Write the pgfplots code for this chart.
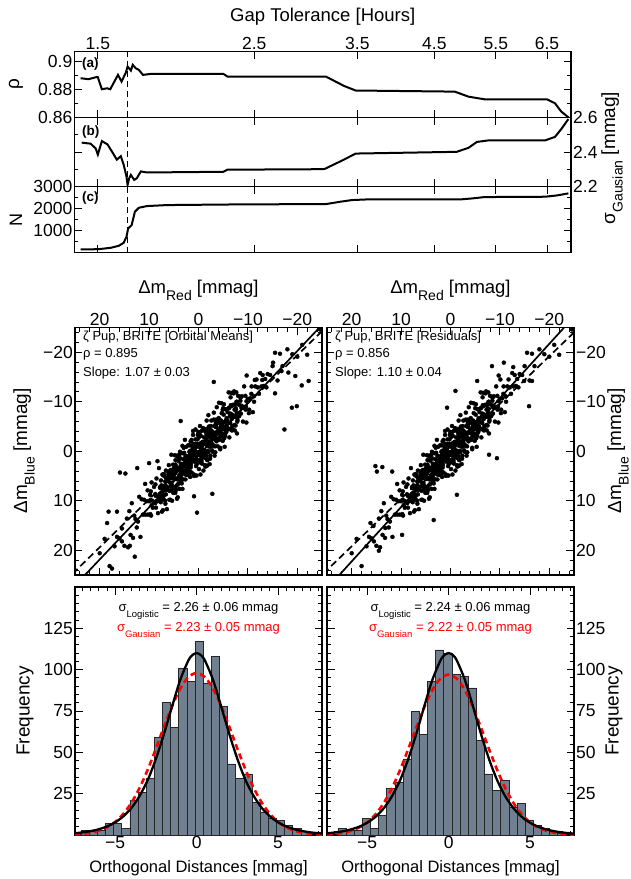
\documentclass[border=0pt]{standalone}
\usepackage{fontspec}
\setmainfont{Liberation Sans}
\usepackage{pgfplots}
\usepackage{pgfplotstable}
\pgfplotsset{compat=1.18}
\definecolor{slate}{RGB}{112,128,144}
\newcommand{\fs}[1]{\fontsize{#1}{#1}\selectfont}
\newcommand{\sub}[1]{\raisebox{-0.4em}{\fontsize{14}{14}\selectfont #1}}
\newcommand{\subs}[1]{\raisebox{-0.42em}{\fontsize{9.5}{9.5}\selectfont #1}}
\newcommand{\tickfont}{\fontsize{17.5}{17.5}\selectfont}

% ---------- scatter core (shared dense cloud) ----------
\pgfplotstableread[row sep=\\]{
x y\\
0.00 0.3\\ 0.20 -2.4\\ -0.20 1.8\\ 0.10 -0.9\\ -0.10 3.6\\ 0.25 -1.5\\ -0.15 0.8\\ 0.05 -3.9\\
0.50 3.0\\ 0.70 0.3\\ 0.30 1.7\\ 0.60 -2.4\\ 0.40 4.9\\ 0.75 -0.1\\ 0.35 2.6\\ 0.55 -1.4\\
-0.50 -0.4\\ -0.30 -5.1\\ -0.70 2.5\\ -0.40 -1.6\\ -0.60 1.1\\ -0.25 -3.8\\ -0.65 0.0\\ -0.45 2.3\\
1.00 0.7\\ 1.20 -0.9\\ 0.80 2.1\\ 1.10 -4.1\\ 0.90 5.0\\ 1.25 -0.2\\ 0.85 1.8\\ 1.05 -1.5\\
-1.00 3.9\\ -0.80 -1.9\\ -1.20 1.2\\ -0.90 -4.7\\ -1.10 0.3\\ -0.75 -1.2\\ -1.15 -2.8\\ -0.95 0.9\\
1.50 0.7\\ 1.70 5.2\\ 1.30 0.1\\ 1.60 2.4\\ 1.40 -2.3\\ 1.75 4.1\\ 1.35 1.4\\ 1.55 2.8\\
-1.50 -4.5\\ -1.30 2.8\\ -1.70 -2.2\\ -1.40 0.5\\ -1.60 -3.5\\ -1.25 -1.5\\ -1.65 -6.2\\ -1.45 1.4\\
2.00 1.0\\ 2.20 3.7\\ 1.80 -1.2\\ 2.10 2.6\\ 1.90 4.9\\ 2.25 1.7\\ 1.85 0.1\\ 2.05 3.1\\
-2.00 -7.3\\ -1.80 1.8\\ -2.20 -3.4\\ -1.90 -1.4\\ -2.10 -4.7\\ -1.75 2.9\\ -2.15 -2.9\\ -1.95 0.2\\
2.5 -0.9\\ 2.7 4.1\\ 2.3 2.6\\ 2.6 1.0\\ 2.4 4.7\\ 2.75 3.0\\
-2.5 -5.1\\ -2.3 -0.9\\ -2.7 -3.6\\ -2.4 0.9\\ -2.6 -4.2\\ -2.25 -1.9\\
3.0 -0.7\\ 3.2 5.7\\ 2.8 3.0\\ 3.1 4.4\\ 2.9 0.3\\ 3.25 7.6\\
-3.0 -3.8\\ -2.8 -1.1\\ -3.2 -5.1\\ -2.9 -3.1\\ -3.1 -7.8\\ -2.75 -0.2\\
3.5 2.6\\ 3.7 5.3\\ 3.3 0.4\\ 3.6 4.2\\ 3.4 6.5\\ 3.75 3.3\\
-3.5 -5.7\\ -3.3 -2.7\\ -3.7 -8.9\\ -3.4 0.2\\ -3.6 -5.0\\ -3.25 -3.0\\
4.0 1.7\\ 4.2 9.3\\ 3.8 3.5\\ 4.1 6.6\\ 3.9 0.7\\ 4.25 5.7\\
-4.0 -4.4\\ -3.8 -6.0\\ -4.2 -2.3\\ -3.9 -4.0\\ -4.1 -6.7\\ -3.75 -2.5\\
4.5 3.9\\ 4.7 8.4\\ 4.3 3.3\\ 4.6 5.6\\ 4.4 0.9\\ 4.75 7.3\\
-4.5 -5.0\\ -4.3 -3.6\\ -4.7 -7.7\\ -4.4 -0.4\\ -4.6 -5.4\\ -4.25 -2.7\\
5.0 3.5\\ 5.2 5.5\\ 4.8 0.8\\ 5.1 8.4\\ 4.9 4.3\\ 5.25 7.0\\
-5.0 -8.7\\ -4.8 -4.9\\ -5.2 -2.6\\ -4.9 -5.8\\ -5.1 -7.4\\ -4.75 -4.4\\
5.5 0.7\\ 5.7 9.8\\ 5.3 4.6\\ 5.6 6.6\\ -5.5 -8.5\\ -5.3 -0.9\\ -5.7 -6.7\\ -5.4 -3.6\\
6.0 2.8\\ 6.2 7.8\\ 5.8 6.3\\ 6.1 4.7\\ -6.0 -4.4\\ -5.8 -6.1\\ -6.2 -8.8\\ -5.9 -4.6\\
6.5 6.1\\ 6.7 10.6\\ 6.3 5.5\\ 6.6 7.8\\ -6.5 -10.9\\ -6.3 -4.5\\ -6.7 -7.2\\ -6.4 -5.8\\
7.0 4.6\\ 7.2 11.9\\ 6.8 6.9\\ 7.1 9.6\\ -7.0 -9.4\\ -6.8 -7.4\\ -7.2 -12.1\\ -6.9 -4.5\\
7.5 6.9\\ 7.7 9.6\\ 7.3 4.7\\ 7.6 8.5\\ -7.5 -5.2\\ -7.3 -8.4\\ -7.7 -10.0\\ -7.4 -7.0\\
8.0 3.4\\ 8.2 12.5\\ 7.8 7.3\\ 8.1 9.3\\ -8.0 -11.2\\ -7.8 -3.6\\ -8.2 -9.4\\ -7.9 -6.3\\
8.5 5.5\\ 8.75 10.5\\ 8.3 9.0\\ -8.5 -10.8\\ -8.25 -7.1\\ -8.7 -8.8\\
9.0 7.2\\ 9.25 11.4\\ 8.8 8.7\\ -9.0 -6.0\\ -8.75 -11.1\\ -9.2 -8.8\\
9.5 6.3\\ 9.75 12.7\\ 9.3 10.0\\ -9.5 -9.0\\ -9.25 -13.1\\ -9.7 -5.8\\
10.0 10.1\\ 10.25 12.8\\ 9.8 8.8\\ -10.0 -10.6\\ -9.75 -15.3\\ -10.2 -7.7\\
10.5 10.1\\ 10.75 12.8\\ 10.3 7.9\\ -10.5 -10.7\\ -10.25 -8.4\\ -10.7 -11.6\\
11.0 9.8\\ 11.25 12.8\\ 10.8 6.6\\ -11.0 -7.9\\ -10.75 -13.1\\ -11.2 -11.1\\
11.5 9.7\\ 11.75 17.3\\ -11.5 -13.1\\ -11.25 -10.0\\ 12.0 9.2\\ 12.25 14.2\\ -12.0 -12.9\\ -11.75 -14.5\\
12.5 15.4\\ 12.75 13.7\\ -12.5 -15.8\\ -12.25 -11.6\\ 13.0 13.0\\ 13.25 17.5\\ -13.0 -15.4\\ -12.75 -13.1\\
13.5 10.5\\ 13.75 16.9\\ -13.5 -14.6\\ -13.25 -13.2\\ 14.0 12.1\\ 14.25 19.4\\ -14.0 -15.6\\ -13.75 -12.9\\
14.5 13.6\\ -14.5 -15.4\\ 15.0 19.1\\ -15.0 -17.2\\ 15.5 18.2\\ -15.5 -19.9\\ 16.0 17.6\\ -16.0 -14.3\\
16.5 17.3\\ -16.5 -19.7\\ 17.0 19.2\\ -17.0 -17.2\\ 18.0 23.2\\ -18.0 -20.6\\ 19.0 17.7\\ -19.0 -19.6\\
20.0 20.6\\ -20.0 -19.1\\ -21.0 -21.5\\ -22.0 -19.5\\
0.25 2.3\\ 0.4 -1.4\\ 0.1 0.2\\ 0.35 1.7\\ 0.15 -3.3\\
-0.25 2.0\\ -0.1 -1.1\\ -0.4 4.7\\ -0.15 -2.9\\ -0.35 0.4\\
0.75 -0.5\\ 0.9 4.7\\ 0.6 -4.4\\ 0.85 1.8\\ 0.65 -1.2\\
-0.75 -1.2\\ -0.6 2.0\\ -0.9 -0.3\\ -0.65 -4.1\\ -0.85 0.8\\
1.25 0.2\\ 1.4 4.3\\ 1.1 -3.3\\ 1.35 1.4\\ 1.15 -0.6\\
-1.25 0.8\\ -1.1 -1.9\\ -1.4 3.1\\ -1.15 -4.2\\ -1.35 -0.1\\
1.75 1.7\\ 1.9 4.4\\ 1.6 -2.0\\ 1.85 2.7\\ 1.65 0.4\\
-1.75 1.7\\ -1.6 -2.8\\ -1.9 -0.1\\ -1.65 -4.3\\ -1.85 -1.6\\
2.25 2.3\\ 2.4 3.8\\ 2.1 -1.2\\ 2.35 4.7\\ 2.15 1.6\\
-2.25 2.6\\ -2.1 -5.0\\ -2.4 -1.7\\ -2.15 -3.7\\ -2.35 1.5\\
2.75 -2.3\\ 2.9 3.9\\ 2.6 0.9\\ 2.85 2.5\\ 2.65 5.7\\
-2.75 -2.4\\ -2.6 -6.2\\ -2.9 -1.3\\ -2.65 -4.0\\ -2.85 0.1\\
3.25 -1.1\\ 3.4 3.6\\ 3.1 1.6\\ 3.35 5.6\\ 3.15 2.9\\
-3.25 0.9\\ -3.1 -6.4\\ -3.4 -2.3\\ -3.15 -3.7\\ -3.35 -1.0\\
3.75 0.1\\ 3.9 4.8\\ 3.6 2.5\\ 3.85 7.6\\ 3.65 3.1\\
-3.75 -2.2\\ -3.6 -6.4\\ -3.9 -3.7\\ -3.65 -2.0\\ -3.85 -5.7\\
4.25 1.0\\ 4.4 6.9\\ 4.1 3.8\\ 4.35 9.6\\ 4.15 1.9\\
-4.25 -3.9\\ -4.1 -5.9\\ -4.4 -0.7\\ -4.15 -9.8\\ -4.35 -3.5\\
4.75 3.1\\ 4.9 4.7\\ 4.6 7.9\\ 4.85 5.6\\ 4.65 1.8\\
-4.75 -3.5\\ -4.6 -6.2\\ -4.9 -2.1\\ -4.65 -9.7\\ -4.85 -5.0\\
5.25 3.7\\ 5.4 7.7\\ 5.1 5.0\\ 5.35 10.0\\ 5.15 2.7\\
-5.25 -4.4\\ -5.1 -5.8\\ -5.4 -3.1\\ -5.15 -9.5\\ -5.35 -4.8\\
5.75 4.7\\ 5.9 9.8\\ 5.6 5.3\\ 5.85 8.0\\ 5.65 3.8\\
-5.75 -5.9\\ -5.6 -4.2\\ -5.9 -7.9\\ -5.65 -6.3\\ -5.85 -4.8\\
6.25 5.9\\ 6.4 11.7\\ 6.1 4.1\\ 6.35 7.4\\ 6.15 5.4\\
-6.25 -2.8\\ -6.1 -11.9\\ -6.4 -5.7\\ -6.15 -8.7\\ -6.35 -7.1\\
6.75 10.0\\ 6.9 7.7\\ 6.6 3.9\\ 6.85 8.8\\ 6.65 6.1\\
-6.75 -4.2\\ -6.6 -11.8\\ -6.9 -7.1\\ -6.65 -9.1\\ -6.85 -5.1\\
7.25 7.2\\ 7.4 12.2\\ 7.1 4.9\\ 7.35 9.0\\ 7.15 7.6\\
-7.25 -5.3\\ -7.1 -11.7\\ -7.4 -7.0\\ -7.15 -9.3\\ -7.35 -4.2\\
7.75 7.4\\ 7.9 10.1\\ 7.6 5.9\\ 7.85 8.6\\ 7.65 10.3\\
-7.75 -10.0\\ -7.6 -8.4\\ -7.9 -6.9\\ -7.65 -11.9\\ -7.85 -6.0\\
0.6 1.7\\ 0.72 -0.8\\ 0.48 1.0\\ 0.66 0.0\\ -0.6 1.6\\ -0.48 -3.1\\ -0.72 0.3\\ -0.54 -0.8\\
1.6 3.3\\ 1.72 0.7\\ 1.48 1.7\\ 1.66 -0.1\\ -1.6 1.0\\ -1.48 -2.2\\ -1.72 -1.1\\ -1.54 -3.9\\
2.6 4.1\\ 2.72 1.9\\ 2.48 3.0\\ 2.66 4.7\\ -2.6 -1.7\\ -2.48 -4.2\\ -2.72 -2.4\\ -2.54 -3.4\\
3.6 6.1\\ 3.72 1.4\\ 3.48 4.8\\ 3.66 3.7\\ -3.6 -2.3\\ -3.48 -4.9\\ -3.72 -3.9\\ -3.54 -5.7\\
4.6 7.6\\ 4.72 4.4\\ 4.48 5.5\\ 4.66 2.7\\ -4.6 -3.6\\ -4.48 -5.8\\ -4.72 -4.7\\ -4.54 -3.0\\
5.6 7.1\\ 5.72 4.6\\ 5.48 6.4\\ 5.66 5.4\\ -5.6 -3.8\\ -5.48 -8.5\\ -5.72 -5.1\\ -5.54 -6.2\\
6.6 8.7\\ 6.72 6.1\\ 6.48 7.1\\ 6.66 5.3\\ -6.6 -4.4\\ -6.48 -7.6\\ -6.72 -6.5\\ -6.54 -9.3\\
7.6 9.4\\ 7.72 7.2\\ 7.48 8.3\\ 7.66 10.0\\ -7.6 -7.0\\ -7.48 -9.5\\ -7.72 -7.7\\ -7.54 -8.7\\
8.6 11.4\\ 8.72 6.7\\ 8.48 10.1\\ 8.66 9.0\\ -8.6 -7.6\\ -8.48 -10.2\\ -8.72 -9.2\\ -8.54 -11.0\\
9.6 13.0\\ 9.72 9.8\\ 9.48 10.9\\ 9.66 8.1\\ -9.6 -9.0\\ -9.48 -11.2\\ -9.72 -10.1\\ -9.54 -8.4\\
}\core

\pgfplotstableread[row sep=\\]{
x y\\
-11.4 -14.4\\ -12.9 -14.4\\ -15.5 -11.7\\ -18.9 -8.8\\ -19.9 -9.1\\ -17.4 -4.4\\ -4.9 -8.4\\
15.9 4.3\\ 14.8 4.5\\ 12.4 3.4\\ 18.2 12.2\\ 16.5 12.2\\ 18.5 14.5\\ 15.5 15.6\\ 13.9 19.1\\
12.9 21.3\\ 17.5 23.7\\ 0.3 12.4\\ 0.9 9.1\\ -2.8 8.6\\ -3.9 -1.0\\ -3.1 -14.0\\ -15.1 -17.9\\
-16.8 -16.2\\ -18.2 -15.9\\ -19.6 -15.2\\ -20.9 -13.3\\ -22.3 -14.2\\ -24.6 -24.6\\ 10.0 2.4\\
8.3 2.0\\ 3.6 -6.1\\
}\outL

\pgfplotstableread[row sep=\\]{
x y\\
-8.4 -17.2\\ -10.8 -17.9\\ -12.7 -17.0\\ -5.4 -14.2\\ -10.1 -14.5\\ -14.9 -14.2\\ -16.5 -14.2\\
-1.0 -12.2\\ -15.9 -9.1\\ 0.7 -8.8\\ -7.8 0.7\\ -9.4 1.4\\ 15.2 3.0\\ 13.8 3.2\\ 11.8 4.1\\
14.9 4.1\\ -1.3 8.8\\ 3.4 13.9\\ 16.2 14.5\\ 15.6 15.1\\ 14.5 20.1\\ 9.8 16.9\\ 13.2 15.5\\
-24.6 -24.6\\
}\outR

\begin{document}
\begin{tikzpicture}
\useasboundingbox (0pt,0pt) rectangle (630pt,-879pt);
\pgfplotsset{
  every axis/.append style={
    scale only axis,
    axis line style={line width=1.3pt},
    tick style={black, line width=0.9pt},
    major tick length=7.5pt, minor tick length=4pt,
    tick label style={font=\tickfont},
    xticklabel style={inner sep=1.5pt},
    yticklabel style={inner sep=2pt},
    scaled ticks=false,
  },
}

% ================= TOP: gap tolerance panels =================
\node[anchor=base, inner sep=0pt] at (322.75pt,-21.5pt) {\fs{18.5}Gap Tolerance [Hours]};

\begin{axis}[at={(74.5pt,-51.7pt)}, anchor=north west, width=496.5pt, height=65.6pt,
  xmode=log, xmin=1.39, xmax=7.03,
  xtick={1.5,2.5,3.5,4.5,5.5,6.5}, xticklabels={1.5,2.5,3.5,4.5,5.5,6.5},
  xticklabel pos=top, minor xtick={},
  ymin=0.86, ymax=0.907, ytick={0.86,0.88,0.9}, yticklabels={0.86,0.88,0.9},
  minor ytick={0.87,0.89}]
\addplot[black, line width=2pt] coordinates {
(1.418,0.8880) (1.455,0.8873) (1.490,0.8887) (1.500,0.8887) (1.520,0.8801) (1.546,0.8808)
(1.562,0.8801) (1.602,0.8904) (1.621,0.8856) (1.644,0.8921) (1.653,0.8964) (1.671,0.8935)
(1.681,0.8976) (1.697,0.8952) (1.715,0.8940) (1.738,0.8904) (1.784,0.8911) (2.260,0.8911)
(2.290,0.8892) (3.158,0.8892) (3.350,0.8825) (3.480,0.8792) (4.810,0.8784) (5.030,0.8748)
(5.300,0.8729) (6.500,0.8729) (6.670,0.8701) (6.810,0.8641) (6.970,0.8600)};
\addplot[black, line width=1.6pt, dash pattern=on 6pt off 4pt] coordinates {(1.653,0.86) (1.653,0.907)};
\end{axis}

\begin{axis}[at={(74.5pt,-117.3pt)}, anchor=north west, width=496.5pt, height=69.4pt,
  xmode=log, xmin=1.39, xmax=7.03,
  xtick={1.5,2.5,3.5,4.5,5.5,6.5}, xticklabels={}, minor xtick={},
  ymin=2.2, ymax=2.6, ytick={2.2,2.4,2.6}, yticklabels={2.2,2.4,2.6},
  yticklabel pos=right, minor ytick={2.3,2.5}]
\addplot[black, line width=2pt] coordinates {
(1.423,2.454) (1.465,2.448) (1.490,2.420) (1.500,2.385) (1.520,2.463) (1.548,2.444)
(1.575,2.395) (1.596,2.356) (1.617,2.376) (1.632,2.327) (1.647,2.259) (1.653,2.210)
(1.662,2.250) (1.671,2.268) (1.689,2.239) (1.704,2.249) (1.726,2.288) (1.761,2.282)
(2.260,2.286) (2.290,2.298) (3.140,2.301) (3.350,2.356) (3.480,2.391) (4.840,2.401)
(5.030,2.424) (5.170,2.458) (5.370,2.467) (6.460,2.467) (6.670,2.487) (6.810,2.532) (6.970,2.590)};
\addplot[black, line width=1.6pt, dash pattern=on 6pt off 4pt] coordinates {(1.653,2.2) (1.653,2.6)};
\end{axis}

\begin{axis}[at={(74.5pt,-186.7pt)}, anchor=north west, width=496.5pt, height=66pt,
  xmode=log, xmin=1.39, xmax=7.03,
  xtick={1.5,2.5,3.5,4.5,5.5,6.5}, xticklabels={}, minor xtick={},
  ymin=-40, ymax=3000, ytick={1000,2000,3000}, yticklabels={1000,2000,3000},
  minor ytick={500,1500,2500}]
\addplot[black, line width=2pt] coordinates {
(1.418,108) (1.504,123) (1.564,185) (1.606,277) (1.632,415) (1.647,690) (1.656,1077)
(1.675,1230) (1.693,1846) (1.715,2030) (1.761,2108) (1.880,2154) (2.381,2185) (3.160,2200)
(3.310,2308) (3.440,2385) (3.620,2415) (4.900,2415) (5.100,2462) (5.300,2523) (6.460,2538)
(6.720,2600) (6.970,2692)};
\addplot[black, line width=1.6pt, dash pattern=on 6pt off 4pt] coordinates {(1.653,-40) (1.653,3000)};
\end{axis}

\node[anchor=base west, inner sep=0pt] at (82pt,-67.5pt) {\bfseries\fs{13.5}(a)};
\node[anchor=base west, inner sep=0pt] at (82pt,-135.5pt) {\bfseries\fs{13.5}(b)};
\node[anchor=base west, inner sep=0pt] at (82pt,-201.5pt) {\bfseries\fs{13.5}(c)};
\node[rotate=90, inner sep=0pt] at (16pt,-84.5pt) {\fs{19}ρ};
\node[rotate=90, inner sep=0pt] at (16pt,-219.7pt) {\fs{18}N};
\node[rotate=90, inner sep=0pt] at (612pt,-158pt) {\fs{19}σ\sub{Gausian} [mmag]};

% ================= SCATTER panels =================
\node[anchor=base, inner sep=0pt] at (198.5pt,-293.3pt) {\fs{18.5}Δm\sub{Red} [mmag]};
\node[anchor=base, inner sep=0pt] at (450.5pt,-293.3pt) {\fs{18.5}Δm\sub{Red} [mmag]};

\begin{axis}[at={(75pt,-327.5pt)}, anchor=north west, width=247pt, height=247.5pt,
  x dir=reverse, y dir=reverse, xmin=-25, xmax=25, ymin=-25, ymax=25,
  xtick={-20,-10,0,10,20}, xticklabels={\textminus20,\textminus10,0,10,20}, xticklabel pos=top,
  ytick={-20,-10,0,10,20}, yticklabels={\textminus20,\textminus10,0,10,20}, yticklabel pos=left,
  minor xtick={-24,-22,...,24}, minor ytick={-24,-22,...,24}]
\addplot[only marks, mark=*, mark size=2pt, black] table {\core};
\addplot[only marks, mark=*, mark size=2pt, black] table {\outL};
\addplot[black, line width=1.7pt] coordinates {(-24.5,-25) (22.98,25)};
\addplot[black, line width=1.7pt, dash pattern=on 7pt off 4pt] coordinates {(-25,-24.25) (25,24.25)};
\end{axis}

\begin{axis}[at={(327pt,-327.5pt)}, anchor=north west, width=247pt, height=247.5pt,
  x dir=reverse, y dir=reverse, xmin=-25, xmax=25, ymin=-25, ymax=25,
  xtick={-20,-10,0,10,20}, xticklabels={\textminus20,\textminus10,0,10,20}, xticklabel pos=top,
  ytick={-20,-10,0,10,20}, yticklabels={\textminus20,\textminus10,0,10,20}, yticklabel pos=right,
  minor xtick={-24,-22,...,24}, minor ytick={-24,-22,...,24}]
\addplot[only marks, mark=*, mark size=2pt, black] table {\core};
\addplot[only marks, mark=*, mark size=2pt, black] table {\outR};
\addplot[black, line width=1.7pt] coordinates {(-23.0,-25) (22.5,25)};
\addplot[black, line width=1.7pt, dash pattern=on 7pt off 4pt] coordinates {(-25,-24.0) (25,24.0)};
\end{axis}

\node[anchor=base west, inner sep=0pt] at (83pt,-340.7pt) {\fs{13}ζ Pup, BRITE [Orbital Means]};
\node[anchor=base west, inner sep=0pt] at (83pt,-357pt) {\fs{13}ρ = 0.895};
\node[anchor=base west, inner sep=0pt] at (83pt,-376pt) {\fs{13}Slope: 1.07 ± 0.03};
\node[anchor=base west, inner sep=0pt] at (335pt,-340.7pt) {\fs{13}ζ Pup, BRITE [Residuals]};
\node[anchor=base west, inner sep=0pt] at (335pt,-357pt) {\fs{13}ρ = 0.856};
\node[anchor=base west, inner sep=0pt] at (335pt,-376pt) {\fs{13}Slope: 1.10 ± 0.04};
\node[rotate=90, inner sep=0pt] at (24pt,-451pt) {\fs{19}Δm\sub{Blue} [mmag]};
\node[rotate=90, inner sep=0pt] at (618pt,-451pt) {\fs{19}Δm\sub{Blue} [mmag]};

% ================= HISTOGRAMS =================
\begin{axis}[at={(75pt,-587pt)}, anchor=north west, width=247pt, height=248pt,
  xmin=-7.47, xmax=7.70, ymin=0, ymax=150,
  xtick={-5,0,5}, xticklabels={\textminus5,0,5}, minor xtick={-7,-6.5,...,7.5},
  ytick={0,25,50,75,100,125,150}, yticklabels={,25,50,75,100,125,}, minor ytick={5,10,...,145}]
\addplot[ybar interval, fill=slate, draw=black!85, line width=0.6pt] coordinates {
(-7.1,3) (-6.6,2) (-6.1,3) (-5.6,7) (-5.1,7) (-4.6,4) (-4.1,21) (-3.6,26) (-3.1,34) (-2.6,59)
(-2.1,80) (-1.6,65) (-1.1,101) (-0.6,93) (-0.1,117) (0.4,92) (0.9,108) (1.4,78) (1.9,43) (2.4,34)
(2.9,37) (3.4,20) (3.9,14) (4.4,10) (4.9,9) (5.4,6) (5.9,4) (6.4,2) (6.9,0)};
\addplot[red, line width=2.6pt, dash pattern=on 6pt off 4pt, smooth] coordinates {
(-7.5,0.34) (-7,0.71) (-6.5,1.40) (-6,2.63) (-5.5,4.68) (-5,7.94) (-4.5,12.8) (-4,19.6) (-3.5,28.6)
(-3,39.6) (-2.5,52.3) (-2,65.6) (-1.5,78.2) (-1,88.6) (-0.5,95.6) (0,98) (0.5,95.6) (1,88.6)
(1.5,78.2) (2,65.6) (2.5,52.3) (3,39.6) (3.5,28.6) (4,19.6) (4.5,12.8) (5,7.94) (5.5,4.68)
(6,2.63) (6.5,1.40) (7,0.71) (7.5,0.34) (7.7,0.26)};
\addplot[black, line width=2.3pt, smooth] coordinates {
(-7.5,1.06) (-7,1.59) (-6.5,2.36) (-6,3.51) (-5.5,5.20) (-5,7.67) (-4.5,11.3) (-4,16.4) (-3.5,23.7)
(-3,33.3) (-2.5,46.1) (-2,61.3) (-1.5,78.0) (-1,94.0) (-0.5,105.7) (-0.25,108.9) (0,110)
(0.25,108.9) (0.5,105.7) (1,94.0) (1.5,78.0) (2,61.3) (2.5,46.1) (3,33.3) (3.5,23.7) (4,16.4)
(4.5,11.3) (5,7.67) (5.5,5.20) (6,3.51) (6.5,2.36) (7,1.59) (7.5,1.06) (7.7,0.92)};
\end{axis}

\begin{axis}[at={(327pt,-587pt)}, anchor=north west, width=247pt, height=248pt,
  xmin=-7.47, xmax=7.70, ymin=0, ymax=150,
  xtick={-5,0,5}, xticklabels={\textminus5,0,5}, minor xtick={-7,-6.5,...,7.5},
  ytick={0,25,50,75,100,125,150}, yticklabels={,25,50,75,100,125,}, minor ytick={5,10,...,145},
  yticklabel pos=right]
\addplot[ybar interval, fill=slate, draw=black!85, line width=0.6pt] coordinates {
(-6.8,4) (-6.3,3) (-5.8,3) (-5.3,10) (-4.8,4) (-4.3,12) (-3.8,28) (-3.3,32) (-2.8,46) (-2.3,75)
(-1.8,61) (-1.3,93) (-0.8,112) (-0.3,110) (0.2,97) (0.7,96) (1.2,89) (1.7,57) (2.2,37) (2.7,27)
(3.2,33) (3.7,17) (4.2,19) (4.7,9) (5.2,6) (5.7,4) (6.2,2) (6.7,1) (7.2,0)};
\addplot[red, line width=2.6pt, dash pattern=on 6pt off 4pt, smooth] coordinates {
(-7.5,0.33) (-7,0.67) (-6.5,1.33) (-6,2.52) (-5.5,4.51) (-5,7.68) (-4.5,12.4) (-4,19.1) (-3.5,28.0)
(-3,38.9) (-2.5,51.5) (-2,64.6) (-1.5,77.2) (-1,87.6) (-0.5,94.6) (0,97) (0.5,94.6) (1,87.6)
(1.5,77.2) (2,64.6) (2.5,51.5) (3,38.9) (3.5,28.0) (4,19.1) (4.5,12.4) (5,7.68) (5.5,4.51)
(6,2.52) (6.5,1.33) (7,0.67) (7.5,0.33) (7.7,0.25)};
\addplot[black, line width=2.3pt, smooth] coordinates {
(-7.5,1.01) (-7,1.51) (-6.5,2.26) (-6,3.36) (-5.5,5.00) (-5,7.42) (-4.5,10.9) (-4,16.0) (-3.5,23.1)
(-3,32.7) (-2.5,45.4) (-2,60.7) (-1.5,77.7) (-1,93.8) (-0.5,105.6) (-0.25,108.9) (0,110)
(0.25,108.9) (0.5,105.6) (1,93.8) (1.5,77.7) (2,60.7) (2.5,45.4) (3,32.7) (3.5,23.1) (4,16.0)
(4.5,10.9) (5,7.42) (5.5,5.00) (6,3.36) (6.5,2.26) (7,1.51) (7.5,1.01) (7.7,0.87)};
\end{axis}

\node[anchor=base, inner sep=0pt] at (198.5pt,-611.7pt) {\fs{13}σ\subs{Logistic} = 2.26 ± 0.06 mmag};
\node[anchor=base, inner sep=0pt, red] at (198.5pt,-631.7pt) {\fs{13}σ\subs{Gausian} = 2.23 ± 0.05 mmag};
\node[anchor=base, inner sep=0pt] at (450.5pt,-611.7pt) {\fs{13}σ\subs{Logistic} = 2.24 ± 0.06 mmag};
\node[anchor=base, inner sep=0pt, red] at (450.5pt,-631.7pt) {\fs{13}σ\subs{Gausian} = 2.22 ± 0.05 mmag};
\node[anchor=base, inner sep=0pt] at (198.5pt,-872pt) {\fs{16.5}Orthogonal Distances [mmag]};
\node[anchor=base, inner sep=0pt] at (450.5pt,-872pt) {\fs{16.5}Orthogonal Distances [mmag]};
\node[rotate=90, inner sep=0pt] at (25pt,-711pt) {\fs{19}Frequency};
\node[rotate=90, inner sep=0pt] at (614pt,-711pt) {\fs{19}Frequency};
\end{tikzpicture}
\end{document}
